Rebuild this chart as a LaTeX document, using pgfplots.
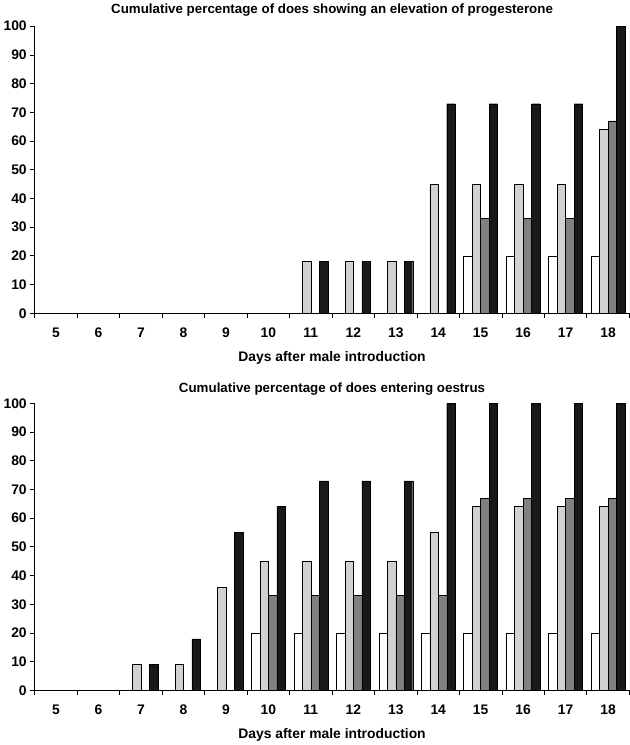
\documentclass[border=0pt]{standalone}
\usepackage{pgfplots}
\pgfplotsset{compat=1.18}
\usepackage{fontspec}
\setmainfont{Liberation Sans}
\begin{document}
\begin{tikzpicture}[font=\bfseries]
\pgfplotsset{
  mystyle/.style={
    width=555bp, height=268bp, scale only axis,
    ybar=0pt, bar width=0.2,
    xmin=-0.5, xmax=13.5, ymin=0, ymax=100,
    axis x line*=bottom, axis y line*=left,
    xtick={0,...,13},
    xticklabels={5,6,7,8,9,10,11,12,13,14,15,16,17,18},
    major x tick style={draw=none},
    minor xtick={-0.5,0.5,...,13.5},
    ytick={0,10,...,100},
    tick align=outside, major tick length=4bp, minor tick length=4bp,
    tick style={black, thick},
    axis line style={thick},
    /pgf/number format/assume math mode=true,
    ticklabel style={font=\bfseries\fontsize{13}{15}\selectfont},
    xticklabel style={yshift=-6bp},
    xlabel style={font=\bfseries\fontsize{13}{15}\selectfont, yshift=-6bp},
    title style={font=\bfseries\fontsize{12.5}{15}\selectfont},
    xlabel={Days after male introduction},
    every axis plot/.append style={draw=black, line width=0.4pt},
  }
}
\begin{axis}[mystyle, at={(0,0)}, title={Cumulative percentage of does showing an elevation of progesterone}]
\addplot[fill=white] coordinates {(0,0)(1,0)(2,0)(3,0)(4,0)(5,0)(6,0)(7,0)(8,0)(9,0)(10,20)(11,20)(12,20)(13,20)};
\addplot[fill=black!18] coordinates {(0,0)(1,0)(2,0)(3,0)(4,0)(5,0)(6,18)(7,18)(8,18)(9,45)(10,45)(11,45)(12,45)(13,64)};
\addplot[fill=black!50] coordinates {(0,0)(1,0)(2,0)(3,0)(4,0)(5,0)(6,0)(7,0)(8,0)(9,0)(10,33)(11,33)(12,33)(13,67)};
\addplot[fill=black!90] coordinates {(0,0)(1,0)(2,0)(3,0)(4,0)(5,0)(6,18)(7,18)(8,18)(9,73)(10,73)(11,73)(12,73)(13,100)};
\end{axis}
\begin{axis}[mystyle, at={(0,-352bp)}, title={Cumulative percentage of does entering oestrus}, title style={yshift=-2bp}]
\addplot[fill=white] coordinates {(0,0)(1,0)(2,0)(3,0)(4,0)(5,20)(6,20)(7,20)(8,20)(9,20)(10,20)(11,20)(12,20)(13,20)};
\addplot[fill=black!18] coordinates {(0,0)(1,0)(2,9)(3,9)(4,36)(5,45)(6,45)(7,45)(8,45)(9,55)(10,64)(11,64)(12,64)(13,64)};
\addplot[fill=black!50] coordinates {(0,0)(1,0)(2,0)(3,0)(4,0)(5,33)(6,33)(7,33)(8,33)(9,33)(10,67)(11,67)(12,67)(13,67)};
\addplot[fill=black!90] coordinates {(0,0)(1,0)(2,9)(3,18)(4,55)(5,64)(6,73)(7,73)(8,73)(9,100)(10,100)(11,100)(12,100)(13,100)};
\end{axis}
\end{tikzpicture}
\end{document}
